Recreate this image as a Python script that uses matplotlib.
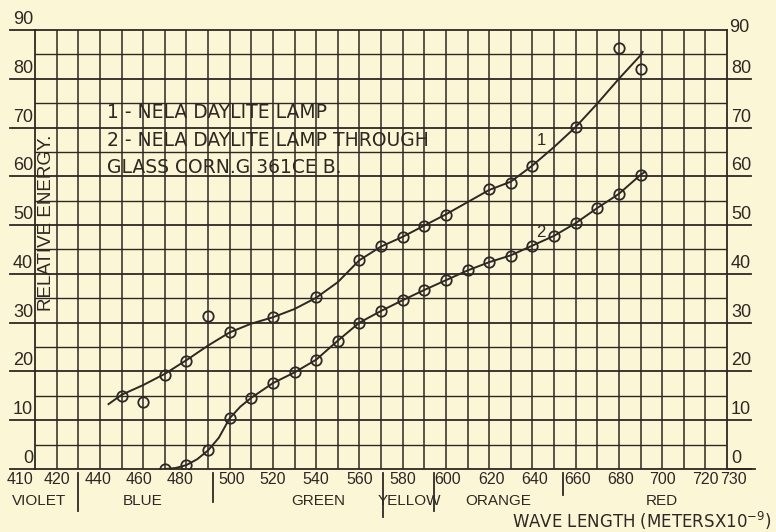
import matplotlib.pyplot as plt

# curve 1 - Nela daylite lamp (circles)
lamp_x = [450, 460, 470, 480, 490, 500, 520, 540, 560, 570, 580, 590, 600,
          620, 630, 640, 660, 680, 690]
lamp_y = [15.0, 13.8, 19.3, 22.2, 31.3, 28.0, 31.1, 35.2, 42.9, 45.8, 47.5,
          49.9, 52.1, 57.4, 58.6, 62.2, 70.1, 86.3, 82.1]
# the drawn smooth curve through them
lamp_curve_x = [444, 450, 460, 470, 480, 490, 500, 510, 520, 530, 540, 550,
                560, 570, 580, 590, 600, 610, 620, 630, 640, 650, 660, 670,
                680, 690, 691]
lamp_curve_y = [13.3, 15.2, 17.2, 19.5, 22.3, 25.3, 28.0, 29.8, 31.1, 32.8,
                35.1, 38.3, 42.8, 45.6, 47.6, 49.9, 52.2, 54.7, 57.2, 58.9,
                62.2, 66.0, 70.1, 74.9, 80.0, 84.8, 85.5]

# curve 2 - same lamp through Corning glass G 361 CE B
glass_x = [470, 480, 490, 500, 510, 520, 530, 540, 550, 560, 570, 580, 590,
           600, 610, 620, 630, 640, 650, 660, 670, 680, 690]
glass_y = [0.1, 0.8, 3.8, 10.4, 14.6, 17.6, 19.8, 22.4, 26.3, 30.0, 32.4,
           34.6, 36.7, 38.7, 40.7, 42.4, 43.6, 45.8, 47.8, 50.4, 53.5, 56.4,
           60.3]
glass_curve_x = [470, 475, 480, 485, 490, 495, 500, 505, 510, 520, 530, 540,
                 550, 560, 570, 580, 590, 600, 610, 620, 630, 640, 650, 660,
                 670, 680, 690, 692]
glass_curve_y = [0.0, 0.2, 0.8, 2.0, 3.8, 6.4, 10.4, 12.8, 14.6, 17.6, 19.8,
                 22.4, 26.3, 30.0, 32.4, 34.6, 36.7, 38.7, 40.7, 42.4, 43.8,
                 45.8, 47.8, 50.4, 53.5, 56.4, 60.3, 60.9]

wave_labels = ['410', '420', '440', '460', '480', '500', '520', '540', '560',
               '580', '600', '620', '640', '660', '680', '700', '720', '730']
wave_label_pos = [403, 420, 439, 458, 477, 501, 520, 540, 560, 580, 601, 621,
                  641, 661, 681, 700, 720, 733]
colour_names = ['VIOLET', 'BLUE', 'GREEN', 'YELLOW', 'ORANGE', 'RED']
colour_name_pos = [412, 460, 541, 583, 624, 700]
colour_bounds = [430, 492.5, 571, 594.5, 654]
energy_ticks = [0, 10, 20, 30, 40, 50, 60, 70, 80, 90]
notes = ['1 - NELA DAYLITE LAMP', '2 - NELA DAYLITE LAMP THROUGH',
         'GLASS CORN.G 361CE B.']

paper = '#fbf7d6'
ink = '#2d2823'
font = ['Liberation Sans', 'DejaVu Sans']
wide = ['DejaVu Sans']

fig = plt.figure(figsize=(7.76, 5.32), dpi=100, facecolor=paper)
ax = fig.add_axes([35 / 776, 1 - 469 / 532, 692 / 776, 439 / 532])
ax.set_facecolor(paper)
ax.set_xlim(410, 730)
ax.set_ylim(0, 90)
ax.set_xticks([])
ax.set_yticks([])
for s in ax.spines.values():
    s.set_color(ink)
    s.set_linewidth(1.3)

# graph paper
for w in range(420, 730, 10):
    ax.axvline(w, color=ink, lw=1.1, zorder=1)
for e in range(5, 90, 5):
    ax.axhline(e, color=ink, lw=1.3 if e % 10 == 0 else 1.0, zorder=1)

# curves
ax.plot(lamp_curve_x, lamp_curve_y, color=ink, lw=1.4, zorder=3)
ax.plot(glass_curve_x, glass_curve_y, color=ink, lw=1.4, zorder=3)
ax.plot(lamp_x, lamp_y, 'o', ms=7.5, mfc='none', mec=ink, mew=1.3, zorder=4)
ax.plot(glass_x, glass_y, 'o', ms=7.5, mfc='none', mec=ink, mew=1.3, zorder=4)
ax.text(644, 67.4, '1', color=ink, fontsize=12, family=font, ha='center', va='center')
ax.text(644, 48.5, '2', color=ink, fontsize=12, family=font, ha='center', va='center')

# notes on the sheet
for txt, e in zip(notes, [73.0, 67.4, 61.9]):
    ax.text(443.3, e, txt, color=ink, fontsize=13.5, family=wide, va='center')

ax.text(0.016, 0.56, 'RELATIVE ENERGY.', transform=ax.transAxes, rotation=90,
        color=ink, fontsize=13.5, family=font, ha='center', va='center')

# energy scale on both sides, underlined as on the sheet
yt = ax.get_yaxis_transform()
for e in energy_ticks:
    yl = fig.transFigure.inverted().transform(ax.transData.transform((410, e)))[1]
    ax.plot([-0.036, 0], [e, e], color=ink, lw=1.3, clip_on=False, transform=yt)
    fig.text(33 / 776, yl + 2 / 532, str(e), color=ink, fontsize=13,
             family=font, ha='right', va='bottom')
    if e < 90:
        ax.plot([1, 1.034], [e, e], color=ink, lw=1.3, clip_on=False, transform=yt)
        fig.text(731 / 776, yl + 2 / 532, str(e), color=ink, fontsize=13,
                 family=font, ha='left', va='bottom')
    else:
        fig.text(729 / 776, yl + 2 / 532, str(e), color=ink, fontsize=13,
                 family=font, ha='left', va='center')
ax.plot([1, 1.04], [0, 0], color=ink, lw=1.3, clip_on=False, transform=yt)

# wave length scale with colour bands
xt = ax.get_xaxis_transform()
for lab, pos in zip(wave_labels, wave_label_pos):
    ax.text(pos, -0.025, lab, transform=xt, color=ink, fontsize=11.5,
            family=font, ha='center', va='center')
for name, pos in zip(colour_names, colour_name_pos):
    ax.text(pos, -0.073, name, transform=xt, color=ink, fontsize=11,
            family=font, ha='center', va='center')
for b, low in zip(colour_bounds, [-0.095, -0.075, -0.11, -0.095, -0.06]):
    ax.plot([b, b], [-0.008, low], transform=xt, color=ink, lw=1.3,
            clip_on=False)

fig.text(772 / 776, 1 - 521 / 532, 'WAVE LENGTH (METERSX10$^{-9}$)',
         color=ink, fontsize=12, family=wide, ha='right', va='center')

fig.savefig('out.png', dpi=100, facecolor=paper)
